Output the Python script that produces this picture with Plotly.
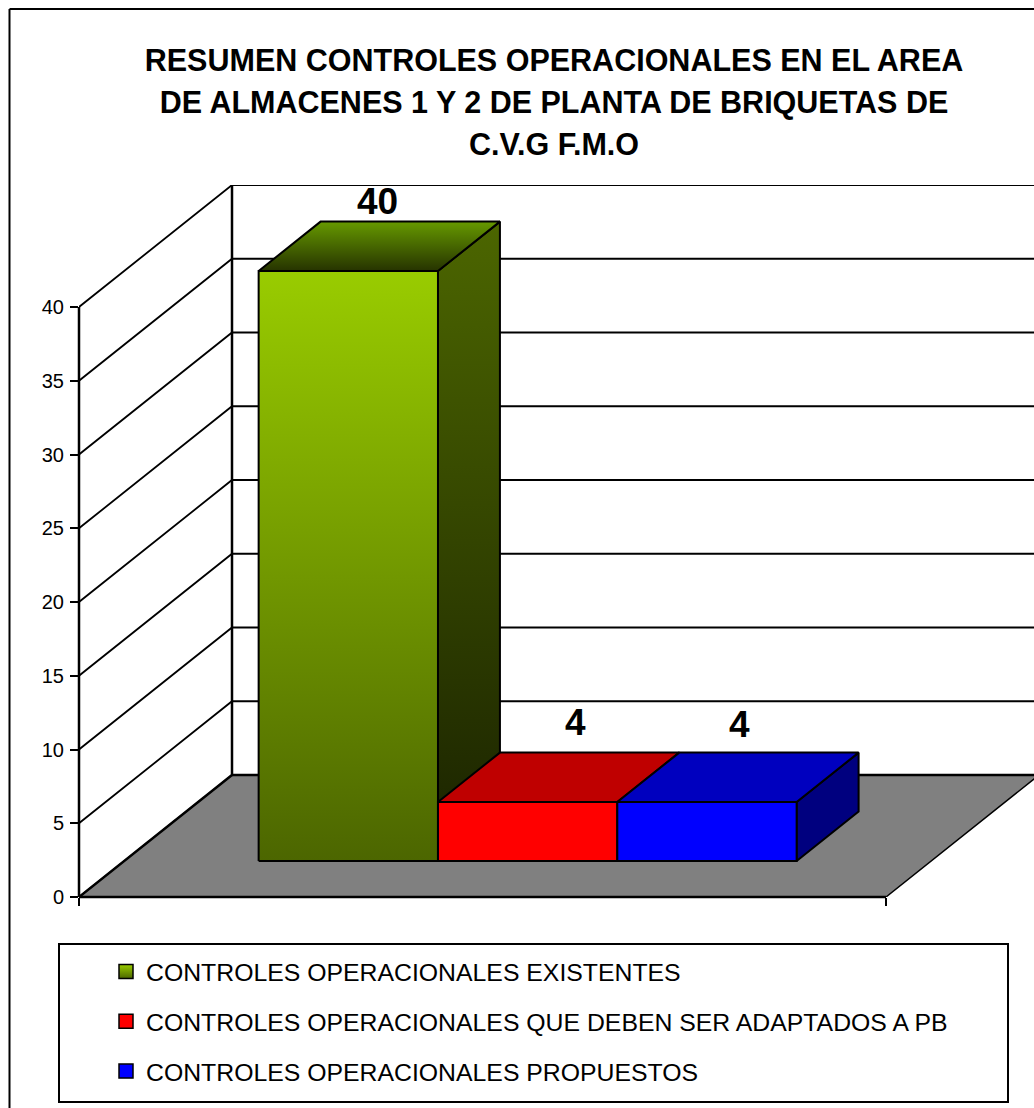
import plotly.graph_objects as go

# --- data ---
series_names = ["CONTROLES OPERACIONALES EXISTENTES",
                "CONTROLES OPERACIONALES QUE DEBEN SER ADAPTADOS A PB",
                "CONTROLES OPERACIONALES PROPUESTOS"]
series_values = [40, 4, 4]
y_ticks = [0, 5, 10, 15, 20, 25, 30, 35, 40]
title_lines = ["RESUMEN CONTROLES OPERACIONALES EN EL AREA",
               "DE ALMACENES 1 Y 2 DE PLANTA DE BRIQUETAS DE",
               "C.V.G F.M.O"]

# --- styles ---
front_colors = [[(0, "#4C6600"), (1, "#99CC00")], "#FF0000", "#0000FF"]
top_colors = [[(0, "#263300"), (1, "#669900")], "#BF0000", "#0000BF"]
side_colors = [[(0, "#1A2200"), (1, "#4C6600")], "#7F0000", "#00007F"]
legend_colors = [("#99CC00", "#4C6600"), ("#FF0000", None), ("#0000FF", None)]
label_shift = [(-33, 20), (-14, 30), (-29, 28)]   # px, from the back of the top face

# --- oblique projection, all in axis units ---
W, H = 1034, 1108
PX_X, PX_Y = 807.0, 14.75        # px per category width / per value unit
LEFT, BOTTOM, TOP = 79, 897, 185
DX, DY = 153 / PX_X, 122 / PX_Y  # full depth offset of the chart box
GAP = 0.75                       # gap on each side in bar widths
D0, D1 = 0.295, 0.70             # depth of bars
BW = 1 / (len(series_values) + 2 * GAP)
Y_MAX = (BOTTOM - TOP) / PX_Y
X_MAX = (W - LEFT) / PX_X


def pap_x(px):
    return (px - LEFT) / (W - LEFT)


def pap_y(py):
    return (BOTTOM - py) / (BOTTOM - TOP)


def P(x, y, d):
    return x + d * DX, y + d * DY


def poly(pts):
    pts = pts + [pts[0]]
    return [p[0] for p in pts], [p[1] for p in pts]


def face(pts, color, lw=2):
    xs, ys = poly(pts)
    kw = dict(x=xs, y=ys, mode="lines", fill="toself", hoverinfo="skip", showlegend=False,
              cliponaxis=False, line=dict(color="black", width=lw))
    if isinstance(color, str):
        kw["fillcolor"] = color
    else:
        kw["fillgradient"] = dict(type="vertical", colorscale=[list(c) for c in color],
                                  start=min(ys), stop=max(ys))
    return go.Scatter(**kw)


fig = go.Figure()

# floor
fig.add_trace(face([P(0, 0, 0), P(1, 0, 0), P(1, 0, 1), P(0, 0, 1)], "#808080", 1.5))

# walls and gridlines
gx, gy = [], []
for v in y_ticks[1:]:
    a, b, c = P(0, v, 0), P(0, v, 1), P(1, v, 1)
    gx += [a[0], b[0], c[0], None]
    gy += [a[1], b[1], c[1], None]
fig.add_trace(go.Scatter(x=gx, y=gy, mode="lines", line=dict(color="black", width=1.8),
                         hoverinfo="skip", showlegend=False, cliponaxis=False))

# heavier frame lines (wall and floor edges)
fx, fy = [], []
for a, b in [(P(0, 0, 1), P(0, 40, 1)), (P(0, 0, 0), P(0, 0, 1)), (P(0, 0, 1), P(1, 0, 1))]:
    fx += [a[0], b[0], None]
    fy += [a[1], b[1], None]
fig.add_trace(go.Scatter(x=fx, y=fy, mode="lines", line=dict(color="black", width=2.5),
                         hoverinfo="skip", showlegend=False, cliponaxis=False))

# bars
for i, v in enumerate(series_values):
    x0 = (GAP + i) * BW
    x1 = x0 + BW
    fig.add_trace(face([P(x1, 0, D0), P(x1, 0, D1), P(x1, v, D1), P(x1, v, D0)], side_colors[i]))
    fig.add_trace(face([P(x0, v, D0), P(x1, v, D0), P(x1, v, D1), P(x0, v, D1)], top_colors[i]))
    fig.add_trace(face([P(x0, 0, D0), P(x1, 0, D0), P(x1, v, D0), P(x0, v, D0)], front_colors[i]))

# legend entries
for i, name in enumerate(series_names):
    top, bottom = legend_colors[i]
    marker = dict(symbol="square", size=14, color=top, line=dict(color="black", width=1.5))
    if bottom:
        marker["gradient"] = dict(type="vertical", color=bottom)
    fig.add_trace(go.Scatter(x=[None], y=[None], mode="markers", name=name, marker=marker,
                             legendgroup=f"g{i}", showlegend=True))

# data labels
annotations = []
for i, v in enumerate(series_values):
    x = (GAP + i + 0.5) * BW
    px, py = P(x, v, D1)
    annotations.append(dict(x=px, y=py, text=str(v), showarrow=False, xref="x", yref="y",
                            xanchor="center", yanchor="middle",
                            xshift=label_shift[i][0], yshift=label_shift[i][1],
                            font=dict(family="Liberation Sans", size=37, color="black", weight="bold")))

frame = dict(color="black", width=2)
axis_line = dict(color="black", width=2.5)
title_html = "<br>".join(f'<span style="font-size:30.5px">{t}</span>' for t in title_lines)
fig.update_layout(
    width=W, height=H, autosize=False,
    margin=dict(l=LEFT, r=0, t=TOP, b=H - BOTTOM, pad=0, autoexpand=False),
    paper_bgcolor="white", plot_bgcolor="white",
    font=dict(family="Liberation Sans", color="black"),
    title=dict(text=title_html, x=554 / W, xanchor="center", xref="container",
               y=1 - 71 / H, yref="container", yanchor="top",
               font=dict(family="Liberation Sans", size=32.3, color="black", weight="bold")),
    xaxis=dict(range=[0, X_MAX], tickvals=[0, 1], showticklabels=False, ticks="outside",
               ticklen=8, tickwidth=1.5, tickcolor="black", showgrid=False, zeroline=False, showline=False),
    yaxis=dict(range=[0, Y_MAX], tickvals=y_ticks, ticks="outside", ticklen=8, tickwidth=1.5,
               tickcolor="black", showgrid=False, zeroline=False, showline=False, ticklabelstandoff=2,
               tickfont=dict(size=20, color="black", family="Liberation Sans")),
    legend=dict(x=106 / W, xanchor="left", xref="container", y=1 - 949 / H, yref="container", yanchor="top",
                orientation="v", tracegroupgap=14.5,
                font=dict(size=24.8, family="Liberation Sans", color="black"),
                bgcolor="rgba(0,0,0,0)", borderwidth=0),
    annotations=annotations,
    shapes=[
        dict(type="line", xref="paper", yref="paper", x0=0, x1=0, y0=0, y1=y_ticks[-1] / Y_MAX, line=axis_line, layer="above"),
        dict(type="line", xref="paper", yref="paper", x0=0, x1=1 / X_MAX, y0=0, y1=0, line=axis_line, layer="above"),
        dict(type="rect", xref="paper", yref="paper", x0=pap_x(59), x1=pap_x(1008),
             y0=pap_y(1102), y1=pap_y(944), line=dict(color="black", width=2), layer="below"),
        dict(type="line", xref="paper", yref="paper", x0=pap_x(9.5), x1=pap_x(9.5),
             y0=pap_y(1108), y1=pap_y(9), line=frame),
        dict(type="line", xref="paper", yref="paper", x0=pap_x(9.5), x1=1, y0=pap_y(9), y1=pap_y(9), line=frame),
    ],
)

fig.write_html("out.html", config=dict(displayModeBar=False),
               post_script="document.body.style.margin='0';document.body.style.overflow='hidden';")
